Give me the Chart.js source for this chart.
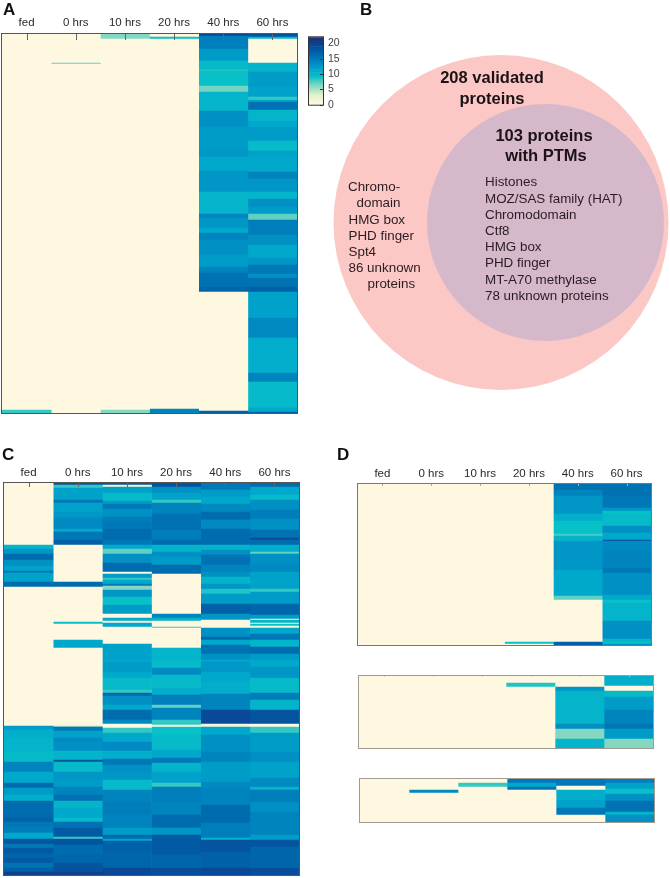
<!DOCTYPE html>
<html><head><meta charset="utf-8">
<script src="https://cdn.jsdelivr.net/npm/chart.js@4/dist/chart.umd.min.js"></script>
<style>
html,body{margin:0;padding:0;background:#fff;width:670px;height:878px;overflow:hidden}
canvas{position:absolute}
.t{position:absolute;font-family:"Liberation Sans",Arial,sans-serif;white-space:nowrap;line-height:1;color:#2a1c22}
.l{font-size:17px;font-weight:bold;color:#111}
.h{font-size:16.5px;font-weight:bold;color:#1c1216;transform:translate(-50%,-50%)}
.b{font-size:13.4px;transform:translateY(-50%)}
</style></head><body>
<script>
const timepoints = ['fed','0 hrs','10 hrs','20 hrs','40 hrs','60 hrs'];

// Each entry: [last row of the band, abundance value]
const A_fed = [[376,0],[379,8]];
const A_0h  = [[29,0],[30,7],[379,0]];
const A_10h = [[5,6],[376,0],[379,6]];
const A_20h = [[3,0],[5,9],[375,0],[379,14]];
const A_40h = [[2,19],[15,14.5],[27,12],[36,9.5],[37,8],[52,9],[58,6.5],[77,10],[93,13],[117,12],[123,12.5],[137,11],[158,12.5],[180,10],[184,14],[194,12.5],[199,11],[206,14],[221,13],[233,12],[239,14],[253,15.5],[258,16.5],[377,0],[379,17]];
const A_60h = [[3,18],[5,9.5],[29,0],[38,10],[53,12],[63,11.5],[66,8],[68,11],[76,15.5],[87,10],[93,11],[107,12],[117,9.5],[123,11.5],[138,11],[145,14],[158,12.5],[165,10],[173,13],[180,12],[186,7],[201,14.5],[211,13],[224,11],[231,12.5],[240,15],[244,13],[253,15.5],[258,17],[284,11.5],[304,13.5],[339,10.5],[348,14],[374,9.5],[378,11],[379,17]];

const C_fed = [[62,0],[66,10],[71,12.5],[77,16],[83,13],[88,11.5],[90,15],[99,11.5],[104,16],[243,0],[247,12],[255,10.5],[269,10],[279,9.5],[289,14],[300,11],[305,16],[312,12],[318,10.5],[335,16],[339,17],[344,15],[350,14.5],[356,11],[361,18],[365,15],[371,17.5],[375,16.5],[380,17.5],[385,15.5],[389,17],[392,20]];
const C_0h = [[2,18],[5,8],[17,11.5],[20,15],[29,11.5],[35,12.5],[46,13.5],[49,11],[57,15],[62,17],[99,0],[104,16],[139,0],[141,9],[157,0],[165,11],[243,0],[244,5],[248,15],[255,11.5],[259,13.5],[268,13],[277,10],[279,18],[289,9.5],[297,12.5],[304,12],[312,14],[318,15.5],[325,10],[335,11],[339,9.5],[345,15.5],[354,17.5],[356,8],[362,18],[372,16],[380,16.5],[389,18],[392,20]];
const C_10h = [[2,18],[4,1],[10,11.5],[18,9.5],[21,12],[26,15],[34,13],[39,14.5],[46,15],[57,16],[62,15],[66,11],[71,7],[80,13],[89,16],[91,0],[95,12],[97,8],[101,11],[103,15],[107,6],[114,12.5],[122,9],[131,12],[135,0],[138,11],[140,0],[144,11],[161,0],[177,11.5],[179,11],[189,12],[195,11],[207,9.5],[210,8],[213,16],[222,13],[227,11],[237,16],[241,13.5],[245,0],[250,8],[259,11],[268,13.5],[276,10.5],[282,15],[289,13],[297,12.5],[307,9.5],[319,14],[332,14.5],[345,14],[352,12],[356,16],[358,11],[369,17],[385,16.5],[392,19]];
const C_20h = [[4,18],[10,13],[17,11.5],[20,8],[31,14],[47,15.5],[57,14.5],[62,16],[69,10],[74,13],[82,12],[91,16],[131,0],[135,14],[138,10],[144,0],[145,8],[161,0],[165,0],[177,10],[185,9.5],[192,13.5],[205,9.5],[212,10.5],[222,14.5],[225,7],[237,14],[242,8],[244,0],[252,9],[267,9.5],[275,11],[280,15],[289,10],[300,11.5],[304,8],[319,14.5],[332,14],[345,16],[352,12.5],[372,17.5],[385,16.5],[392,18.5]];
const C_40h = [[7,15],[14,12],[21,11],[29,13.5],[37,16],[46,13.5],[62,16],[67,10],[72,13],[82,15.5],[89,14],[94,13],[101,10],[106,12.5],[111,8.5],[121,12],[131,17],[137,12.5],[145,0],[154,13],[157,16],[162,11],[171,15.5],[177,13],[179,11],[189,12.5],[199,11],[211,10.5],[227,14],[241,19],[244,1],[252,11],[269,13],[279,14],[299,12],[305,13.5],[322,14],[340,16],[355,14.5],[357,10],[369,18],[385,17],[392,19]];
const C_60h = [[4,16],[12,11],[17,9.5],[27,13],[36,14.5],[47,13],[55,15.5],[57,19],[62,16],[69,10.5],[71,7],[81,13],[89,13.5],[106,11.5],[109,8],[121,12],[132,16.5],[136,12],[137,0],[140,10],[141,1],[143,9],[145,1],[151,11],[157,15],[164,10],[171,16],[177,12],[184,11],[195,12.5],[210,9.5],[217,14.5],[227,10],[241,18],[244,0],[250,8],[269,12],[279,13],[295,11.5],[304,13.5],[307,10],[319,14.5],[329,13],[352,14],[357,12],[364,18],[385,16.5],[392,18.5]];

const D1_fed = [[161,0]];
const D1_0h  = [[161,0]];
const D1_10h = [[161,0]];
const D1_20h = [[158,0],[160,9],[161,0]];
const D1_40h = [[6,15.5],[12,14],[30,12.5],[37,10.5],[50,9],[52,7.5],[57,10],[86,12.5],[112,11],[116,7],[158,0],[161,17]];
const D1_60h = [[12,15.5],[24,15],[27,12.5],[30,9],[42,9.5],[49,13],[56,11],[57,19],[67,13.5],[84,14],[89,15],[111,13],[116,11],[119,9],[137,10],[155,13],[158,10],[160,9],[161,13]];

const D2_fed = [[72,0]];
const D2_0h  = [[72,0]];
const D2_10h = [[72,0]];
const D2_20h = [[7,0],[11,8.5],[72,0]];
const D2_40h = [[11,0],[15,12.5],[48,10],[53,13],[63,6],[72,10]];
const D2_60h = [[10,10.5],[15,0],[21,9.5],[34,12],[48,14],[53,15],[63,12],[72,6]];

const D3_fed = [[43,0]];
const D3_0h  = [[11,0],[14,13.5],[43,0]];
const D3_10h = [[4,0],[8,8],[43,0]];
const D3_20h = [[4,15],[8,11],[11,15],[43,0]];
const D3_40h = [[7,15],[11,0],[21,10.5],[29,11.5],[36,15],[43,0]];
const D3_60h = [[4,14.5],[10,11.5],[15,9],[22,13],[33,15.5],[36,10],[43,13]];

const colorbarLevels = [0,0.5,1,1.5,2,2.5,3,3.5,4,4.5,5,5.5,6,6.5,7,7.5,8,8.5,9,9.5,10,10.5,11,11.5,12,12.5,13,13.5,14,14.5,15,15.5,16,16.5,17,17.5,18,18.5,19,19.5,20,20.5,21,21.5];
const colorbarTicks = [0,5,10,15,20];

const vennSets = ['208 validated proteins','103 proteins with PTMs'];
const vennX = [1,45.5];
const vennY = [0,0];
const vennR = [167.5,118.5];

// colour ramp
const ramp = [[0,255,248,224],[3,226,241,205],[5,168,224,196],[7,96,208,192],[9,8,192,200],[11,0,168,204],[13,0,144,196],[15,0,120,184],[17,0,96,168],[19,10,72,152],[22,26,47,112]];
function colorFor(v){
  for(let i=1;i<ramp.length;i++){
    if(v<=ramp[i][0]){
      const a=ramp[i-1],b=ramp[i],t=(v-a[0])/(b[0]-a[0]);
      return `rgb(${Math.round(a[1]+(b[1]-a[1])*t)},${Math.round(a[2]+(b[2]-a[2])*t)},${Math.round(a[3]+(b[3]-a[3])*t)})`;
    }
  }
  return 'rgb(26,47,112)';
}

Chart.defaults.font.family = '"Liberation Sans",Arial,sans-serif';
Chart.defaults.animation = false;

const framePlugin = {
  id:'frame',
  afterDatasetsDraw(chart,args,o){
    if(!o.color) return;
    const c=chart.ctx,a=chart.chartArea;
    c.save();
    c.lineWidth=1;
    c.strokeStyle=o.color;
    c.strokeRect(a.left-0.5,a.top-0.5,a.width+1,a.height+1);
    if(o.tick){
      c.strokeStyle=o.tickColor||o.color;
      const s=chart.scales.x;
      s.ticks.forEach((t,i)=>{
        const x=Math.round(s.getPixelForTick(i))+0.5;
        c.beginPath();c.moveTo(x,a.top);c.lineTo(x,a.top+o.tick);c.stroke();
      });
    }
    if(o.sideTicks){
      c.strokeStyle=o.color;
      const s=chart.scales.y;
      o.sideTicks.forEach(v=>{
        const y=Math.round(s.getPixelForValue(v))+0.5;
        c.beginPath();c.moveTo(a.right-3,y);c.lineTo(a.right,y);c.stroke();
      });
    }
    c.restore();
  }
};
Chart.register(framePlugin);

function addCanvas(x,y,w,h){
  const el=document.createElement('canvas');
  el.width=w;el.height=h;
  el.style.left=x+'px';el.style.top=y+'px';el.style.width=w+'px';el.style.height=h+'px';
  document.body.appendChild(el);
  return el;
}

const AXIS_H=28;
function heatmap(cols,x,y,w,h,o){
  const el=addCanvas(x-2,y-AXIS_H,w+4,h+AXIS_H+2);
  const datasets=cols.map((segs,ci)=>{
    let start=0;
    const data=segs.map(s=>{const d={x:timepoints[ci],y:[start,s[0]],v:s[1]};start=s[0];return d;});
    return {data,categoryPercentage:1,barPercentage:1,grouped:false,
      backgroundColor:ctx=>colorFor(ctx.raw.v)};
  });
  new Chart(el,{type:'bar',data:{labels:timepoints,datasets},options:{
    responsive:false,
    layout:{autoPadding:false,padding:{left:2,right:2,top:0,bottom:2}},
    plugins:{legend:{display:false},tooltip:{enabled:false},
      frame:{color:o.frame,tick:o.tick,tickColor:o.tickColor}},
    scales:{
      x:{position:'top',grid:{display:false,drawTicks:false},border:{display:false},
        ticks:{display:o.labels!==false,color:'#2a2a2a',font:{size:11.5},padding:o.pad??6,maxRotation:0,autoSkip:false},
        afterFit(s){s.height=AXIS_H;}},
      y:{display:false,reverse:true,min:0,max:h}
    }
  }});
}

heatmap([A_fed,A_0h,A_10h,A_20h,A_40h,A_60h],2,34,295,379,{frame:'#555',tick:6,tickColor:'#666',pad:4});
heatmap([C_fed,C_0h,C_10h,C_20h,C_40h,C_60h],4,483,295,392,{frame:'#555',tick:4,tickColor:'#666',pad:3});
heatmap([D1_fed,D1_0h,D1_10h,D1_20h,D1_40h,D1_60h],358,484,293,161,{frame:'#777',tick:2,tickColor:'#aaa',pad:3});
heatmap([D2_fed,D2_0h,D2_10h,D2_20h,D2_40h,D2_60h],359,676,294,72,{frame:'#a09a90',tick:1,tickColor:'#ccc',labels:false});
heatmap([D3_fed,D3_0h,D3_10h,D3_20h,D3_40h,D3_60h],360,779,294,43,{frame:'#a09a90',labels:false});

// colour bar
(function(){
  const el=addCanvas(306,26,40,90);
  const data=colorbarLevels.map(v=>({x:'k',y:[v,v+0.5],v}));
  new Chart(el,{type:'bar',data:{labels:['k'],datasets:[{data,categoryPercentage:1,barPercentage:1,grouped:false,backgroundColor:ctx=>colorFor(ctx.raw.v)}]},options:{
    responsive:false,
    layout:{autoPadding:false,padding:{left:3,right:0,top:6,bottom:7}},
    plugins:{legend:{display:false},tooltip:{enabled:false},frame:{color:'#333',sideTicks:colorbarTicks}},
    scales:{
      x:{display:false},
      y:{position:'right',min:0,max:22,grid:{display:false,drawTicks:false},border:{display:false},
        afterBuildTicks(s){s.ticks=colorbarTicks.map(value=>({value}));},
        ticks:{color:'#444',font:{size:10.5},padding:5},
        afterFit(s){s.width=23;}}
    }
  }});
})();

// Venn diagram
(function(){
  const el=addCanvas(330,50,340,345);
  new Chart(el,{type:'bubble',data:{datasets:[{
    label:vennSets.join(' / '),
    data:vennX.map((x,i)=>({x,y:vennY[i],r:vennR[i]})),
    backgroundColor:['#fbc8c6','#d6b8cb'],borderWidth:0,clip:false}]},
    options:{responsive:false,layout:{autoPadding:false,padding:0},
      plugins:{legend:{display:false},tooltip:{enabled:false}},
      scales:{x:{display:false,min:-170,max:170},y:{display:false,min:-172.5,max:172.5}}}
  });
})();

// text
function text(cls,x,y,s){
  const d=document.createElement('div');
  d.className='t '+cls;d.style.left=x+'px';d.style.top=y+'px';d.textContent=s;
  document.body.appendChild(d);
}
text('l',3,1,'A');text('l',360,1,'B');text('l',2,446,'C');text('l',337,446,'D');
text('h',492,77,'208 validated');text('h',492,98,'proteins');
text('h',544,135,'103 proteins');text('h',546,155,'with PTMs');
[[348,187.3,'Chromo-'],[356.5,203,'domain'],[348.5,219.7,'HMG box'],[348.5,235.7,'PHD finger'],[348.5,251.7,'Spt4'],[348.5,267.7,'86 unknown'],[367.5,284,'proteins']]
  .forEach(a=>text('b',a[0],a[1],a[2]));
['Histones','MOZ/SAS family (HAT)','Chromodomain','Ctf8','HMG box','PHD finger','MT-A70 methylase','78 unknown proteins']
  .forEach((s,i)=>text('b',485,182.3+i*16.2,s));
</script>
</body></html>
